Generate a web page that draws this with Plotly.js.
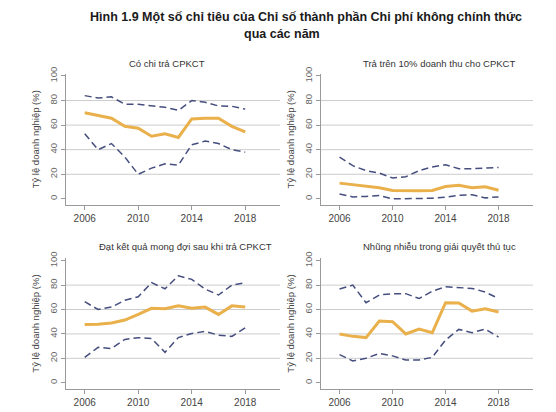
<!DOCTYPE html>
<html><head><meta charset="utf-8">
<script src="https://cdn.plot.ly/plotly-3.0.1.min.js"></script>
<style>html,body{margin:0;padding:0;background:#fff}#c{width:556px;height:412px}</style>
</head><body><div id="c"></div>
<script>
const years = [2006,2007,2008,2009,2010,2011,2012,2013,2014,2015,2016,2017,2018];
const panelTitles = ["Có chi trả CPKCT","Trả trên 10% doanh thu cho CPKCT","Đạt kết quả mong đợi sau khi trả CPKCT","Nhũng nhiễu trong giải quyết thủ tục"];
// Panel 1: Có chi trả CPKCT
const p1Mean  = [70,68,65.6,59,57.5,51,53,50,65,65.6,65.6,59,54.5];
const p1Upper = [84,82,83,77,77,75.6,74.5,72,80,78.6,75.6,75.3,73];
const p1Lower = [53,40,45,34,20,25,28.5,27.4,44,47,45,40,38];
// Panel 2: Trả trên 10% doanh thu
const p2Mean  = [12.8,11.4,10,9,6.8,6.5,6.5,6.8,10,11,9,9.8,7];
const p2Upper = [34,27,23,21,17,18,23,26,27.8,24.5,24.5,24.8,25.6];
const p2Lower = [4,1.6,2,2.7,0,0,0,0.5,1.4,3,3.3,0.8,1.6];
// Panel 3: Đạt kết quả mong đợi
const p3Mean  = [47.8,48,49,51.4,56,61,60.7,63,61,62,56,63,62];
const p3Upper = [66.4,60,62,67.6,70.5,82,77,87.7,84.7,76.8,71.9,80,82];
const p3Lower = [20.8,29,28,35.5,36.9,36.3,24.9,37,40.4,42,39,38,45];
// Panel 4: Nhũng nhiễu
const p4Mean  = [40,38,37,50.5,50,40,44,41,65.6,65.3,58.7,60.6,58];
const p4Upper = [76.8,80,65.6,71.9,73,73,69,75,78.7,77.9,77.3,74.3,69];
const p4Lower = [23,17.8,20,24,22,18.6,18.6,20.8,35,43.7,41,44,37.4];
const xTicks = [2006,2010,2014,2018];
const yTicks = [0,20,40,60,80,100];
const gridVals = [20,40,60,80];

const panels = [[p1Mean,p1Upper,p1Lower],[p2Mean,p2Upper,p2Lower],[p3Mean,p3Upper,p3Lower],[p4Mean,p4Upper,p4Lower]];
const ORANGE = '#E9B04B', NAVY = '#454E7E';
const FONT = 'Liberation Sans, Arial, sans-serif';
const traces = [];
panels.forEach((p,i)=>{
  const xa = i===0?'x':'x'+(i+1), ya = i===0?'y':'y'+(i+1);
  [p[1],p[2]].forEach(arr=>traces.push({x:years,y:arr,xaxis:xa,yaxis:ya,mode:'lines',
    line:{color:NAVY,width:1.5,dash:'7px,4px'},hoverinfo:'skip'}));
  traces.push({x:years,y:p[0],xaxis:xa,yaxis:ya,mode:'lines',line:{color:ORANGE,width:3},hoverinfo:'skip'});
});

const W=556,H=412;
const colX = [[66/W,280/W],[321/W,533/W]];
const rowY = [[(H-205)/H,(H-73.5)/H],[(H-388.8)/H,(H-258.3)/H]];
const layout = {width:W,height:H,margin:{l:0,r:0,t:0,b:0},showlegend:false,
  paper_bgcolor:'#fff',plot_bgcolor:'#fff',font:{family:FONT,color:'#444',size:9.5},
  annotations:[],shapes:[]};
for(let i=0;i<4;i++){
  const c=i%2, r=Math.floor(i/2), s=i===0?'':String(i+1);
  layout['xaxis'+s]={domain:colX[c],anchor:'y'+s,range:[2004.6,2020.6],tickvals:xTicks,ticktext:xTicks.map(String),
    showgrid:false,zeroline:false,showline:true,linecolor:'#9a9a9a',linewidth:1,ticks:'outside',ticklen:4,tickcolor:'#9a9a9a',
    tickfont:{size:10,color:'#444',family:FONT}};
  layout['yaxis'+s]={domain:rowY[r],anchor:'x'+s,range:[-5,102],tickvals:yTicks,ticktext:yTicks.map(String),tickangle:-90,
    showgrid:false,zeroline:false,showline:true,linecolor:'#9a9a9a',linewidth:1,ticks:'outside',ticklen:4,tickcolor:'#9a9a9a',
    tickfont:{size:9.5,color:'#666',family:FONT},
    title:{text:'Tỷ lệ doanh nghiệp (%)',font:{size:9.5,color:'#444',family:FONT},standoff:6}};
  gridVals.forEach(g=>layout.shapes.push({type:'line',xref:'x'+s+' domain',yref:'y'+s,x0:0,x1:1,y0:g,y1:g,
    line:{color:'#cccccc',width:1},layer:'below'}));
}
const titlePos = [[167,64],[439,64],[185,247],[439,247]];
panelTitles.forEach((t,i)=>layout.annotations.push({text:t,xref:'paper',yref:'paper',x:titlePos[i][0]/W,y:1-titlePos[i][1]/H,
  xanchor:'center',yanchor:'middle',showarrow:false,font:{size:9.5,color:'#333',family:FONT}}));
layout.annotations.push({text:'<b>Hình 1.9 Một số chỉ tiêu của Chỉ số thành phần Chi phí không chính thức</b>',xref:'paper',yref:'paper',
  x:306/W,y:1-17/H,xanchor:'center',yanchor:'middle',showarrow:false,font:{size:12.5,color:'#1a1a1a',family:FONT}});
layout.annotations.push({text:'<b>qua các năm</b>',xref:'paper',yref:'paper',
  x:282/W,y:1-34/H,xanchor:'center',yanchor:'middle',showarrow:false,font:{size:12.5,color:'#1a1a1a',family:FONT}});
Plotly.newPlot('c',traces,layout,{staticPlot:true,displayModeBar:false});
</script></body></html>
